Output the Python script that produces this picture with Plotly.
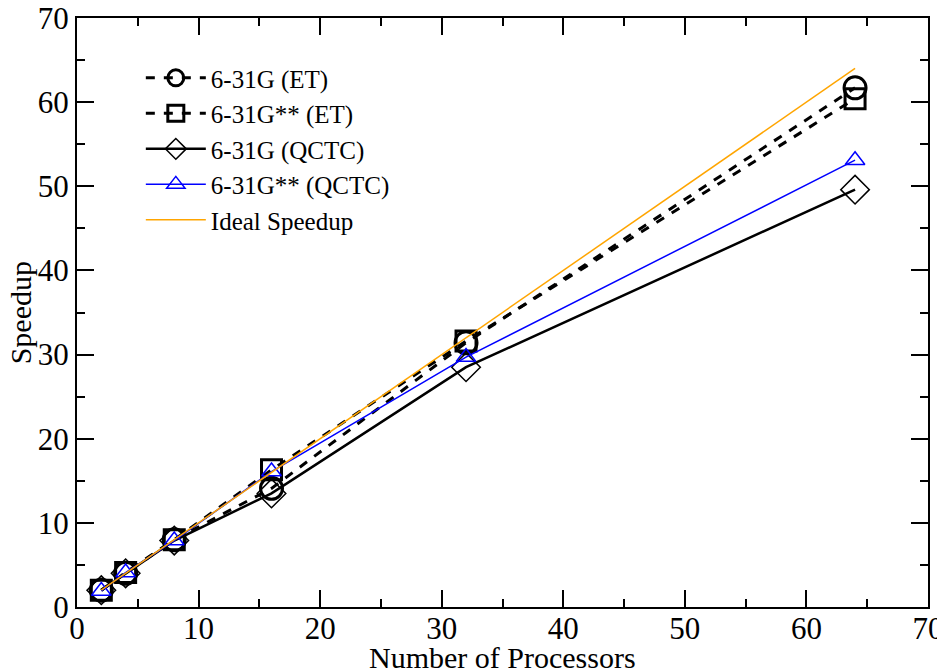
import plotly.graph_objects as go

# numero de processadores e speedups
procs = [2, 4, 8, 16, 32, 64]
et_631g = [2.0, 4.0, 8.0, 14.1, 31.4, 61.7]
et_631gss = [2.0, 4.1, 8.0, 16.3, 31.6, 60.4]
qctc_631g = [2.0, 4.0, 7.9, 13.5, 28.5, 49.6]
qctc_631gss = [1.9, 4.1, 7.9, 16.1, 29.7, 53.1]
ideal = [2, 4, 8, 16, 32, 64]

fig = go.Figure()
fig.add_trace(go.Scatter(x=procs, y=et_631g, name='6-31G (ET)', mode='lines+markers',
                         line=dict(color='black', width=3, dash='dash'),
                         marker=dict(symbol='circle-open', size=22, color='black', line=dict(width=3))))
fig.add_trace(go.Scatter(x=procs, y=et_631gss, name='6-31G** (ET)', mode='lines+markers',
                         line=dict(color='black', width=3, dash='dash'),
                         marker=dict(symbol='square-open', size=20, color='black', line=dict(width=3))))
fig.add_trace(go.Scatter(x=procs, y=qctc_631g, name='6-31G (QCTC)', mode='lines+markers',
                         line=dict(color='black', width=2.5),
                         marker=dict(symbol='diamond-open', size=22, color='black', line=dict(width=1.5))))
fig.add_trace(go.Scatter(x=procs, y=qctc_631gss, name='6-31G** (QCTC)', mode='lines+markers',
                         line=dict(color='blue', width=1.5),
                         marker=dict(symbol='triangle-up-open', size=17, color='blue', line=dict(width=1.5))))
fig.add_trace(go.Scatter(x=procs, y=ideal, name='Ideal Speedup', mode='lines',
                         line=dict(color='orange', width=1.5)))

eixo = dict(range=[0, 70], dtick=10, showline=True, linecolor='black', linewidth=2, mirror='allticks',
            ticks='inside', ticklen=17, tickwidth=2, tickcolor='black', showgrid=False, zeroline=False,
            automargin=False, ticklabeloverflow='allow',
            minor=dict(dtick=5, ticks='inside', ticklen=8, tickwidth=2, tickcolor='black'),
            tickfont=dict(size=31, color='black'))
fig.update_xaxes(**eixo, ticklabelstandoff=-7)
fig.update_yaxes(**eixo)

# titulos dos eixos como anotacoes, para posicionar livremente
fig.add_annotation(text='Number of Processors', x=0.5, y=-0.085, xref='paper', yref='paper',
                   yanchor='middle', showarrow=False, font=dict(size=30, color='black'))
fig.add_annotation(text='Speedup', x=-0.066, y=0.5, xref='paper', yref='paper', textangle=-90,
                   xanchor='center', yanchor='middle', showarrow=False, font=dict(size=30, color='black'))

# a pagina tem margem de 8px no body, por isso a figura e um pouco menor
fig.update_layout(
    width=937, height=662,
    font=dict(family='Liberation Serif', color='black'),
    plot_bgcolor='white', paper_bgcolor='white',
    margin=dict(l=69, r=17, t=10, b=63),
    legend=dict(x=0.075, y=0.937, xanchor='left', yanchor='top', bgcolor='rgba(0,0,0,0)',
                font=dict(size=25), tracegroupgap=0, itemwidth=60),
)

fig.write_html('out.html')
